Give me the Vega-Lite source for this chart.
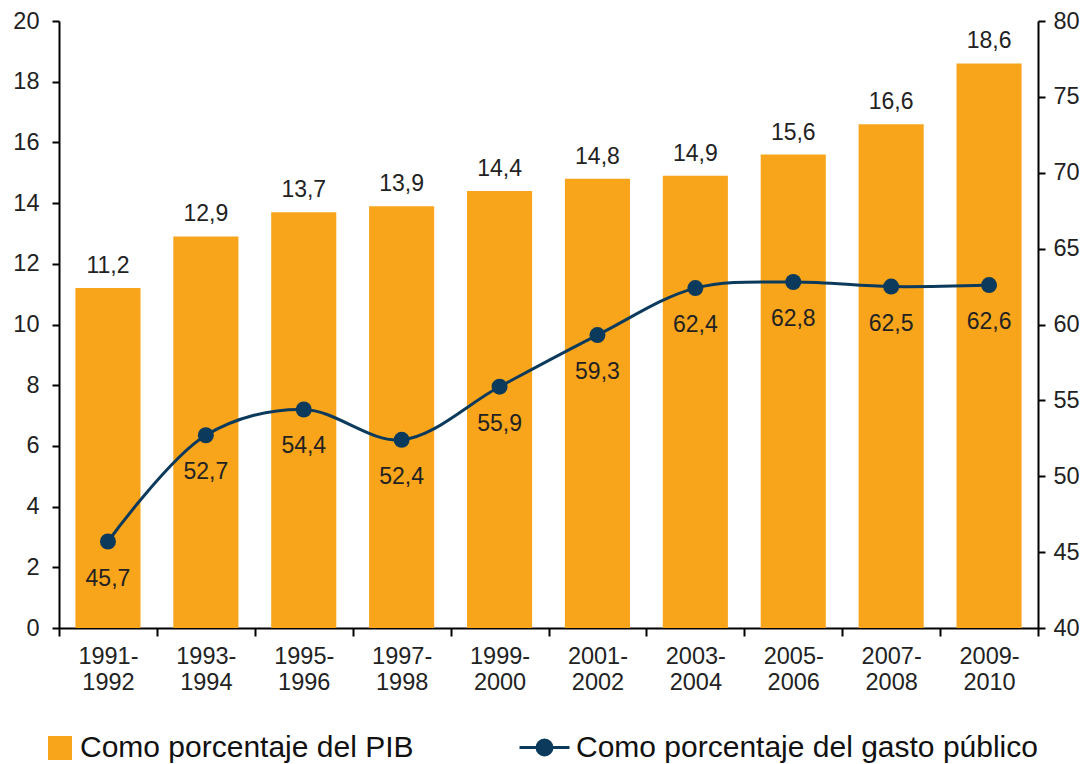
{
  "$schema": "https://vega.github.io/schema/vega-lite/v6.json",
  "width": 979,
  "height": 607,
  "autosize": {"type": "none"},
  "padding": {"left": 59, "top": 21, "right": 49, "bottom": 136},
  "background": "white",
  "config": {
    "view": {"stroke": null},
    "font": "Liberation Sans",
    "locale": {"number": {"decimal": ",", "thousands": ".", "grouping": [3], "currency": ["", " €"]}},
    "axis": {"domainColor": "#000", "domainWidth": 2, "tickColor": "#000", "tickWidth": 2, "tickSize": 7, "labelColor": "#222", "labelFontSize": 23.5, "grid": false, "title": null},
    "legend": {"labelFontSize": 30, "labelColor": "#111", "padding": 0, "title": null, "labelLimit": 800}
  },
  "data": {"values": [
    {"periodo": "1991-1992", "pib": 11.2, "gasto": 45.7},
    {"periodo": "1993-1994", "pib": 12.9, "gasto": 52.7},
    {"periodo": "1995-1996", "pib": 13.7, "gasto": 54.4},
    {"periodo": "1997-1998", "pib": 13.9, "gasto": 52.4},
    {"periodo": "1999-2000", "pib": 14.4, "gasto": 55.9},
    {"periodo": "2001-2002", "pib": 14.8, "gasto": 59.3},
    {"periodo": "2003-2004", "pib": 14.9, "gasto": 62.4},
    {"periodo": "2005-2006", "pib": 15.6, "gasto": 62.8},
    {"periodo": "2007-2008", "pib": 16.6, "gasto": 62.5},
    {"periodo": "2009-2010", "pib": 18.6, "gasto": 62.6}
  ]},
  "encoding": {
    "x": {
      "field": "periodo", "type": "nominal", "sort": null,
      "scale": {"paddingInner": 0, "paddingOuter": 0},
      "axis": {"labelAngle": 0, "tickBand": "extent", "tickSize": 8, "labelPadding": 8, "labelLineHeight": 26, "labelBaseline": "top",
               "labelExpr": "[slice(datum.label,0,5), slice(datum.label,5)]"}
    }
  },
  "layer": [
    {
      "layer": [
        {
          "mark": {"type": "bar", "color": "#F8A51C", "width": {"band": 0.665}},
          "encoding": {
            "y": {"field": "pib", "type": "quantitative", "scale": {"domain": [0, 20], "nice": false},
                  "axis": {"orient": "left", "values": [0, 2, 4, 6, 8, 10, 12, 14, 16, 18, 20], "labelPadding": 13}},
            "fill": {"datum": "Como porcentaje del PIB", "type": "nominal", "scale": {"range": ["#F8A51C"]},
                      "legend": {"orient": "none", "legendX": -14, "legendY": 712, "symbolType": "square", "symbolSize": 576, "labelOffset": 5, "symbolStrokeWidth": 0}}
          }
        },
        {
          "mark": {"type": "text", "fontSize": 23, "color": "#222", "baseline": "alphabetic", "dy": -15},
          "encoding": {
            "y": {"field": "pib", "type": "quantitative"},
            "text": {"field": "pib", "type": "quantitative", "format": ".1f"}
          }
        }
      ]
    },
    {
      "layer": [
        {
          "mark": {"type": "line", "interpolate": "catmull-rom", "strokeWidth": 3},
          "encoding": {
            "y": {"field": "gasto", "type": "quantitative", "scale": {"domain": [40, 80], "nice": false},
                  "axis": {"orient": "right", "values": [40, 45, 50, 55, 60, 65, 70, 75, 80], "labelPadding": 8}},
            "stroke": {"datum": "Como porcentaje del gasto público", "type": "nominal", "scale": {"range": ["#0B3A5C"]},
                       "legend": {"orient": "none", "legendX": 459, "legendY": 700, "symbolType": "M-1,0H1M0.3,0A0.3,0.3,0,1,1,-0.3,0A0.3,0.3,0,1,1,0.3,0Z", "symbolSize": 2500, "symbolStrokeWidth": 3, "symbolFillColor": "#0B3A5C", "labelOffset": 5}}
          }
        },
        {
          "mark": {"type": "point", "filled": true, "size": 256, "color": "#0B3A5C", "opacity": 1},
          "encoding": {"y": {"field": "gasto", "type": "quantitative"}}
        },
        {
          "mark": {"type": "text", "fontSize": 23, "color": "#222", "baseline": "alphabetic", "dy": 44},
          "encoding": {
            "y": {"field": "gasto", "type": "quantitative"},
            "text": {"field": "gasto", "type": "quantitative", "format": ".1f"}
          }
        }
      ]
    }
  ],
  "resolve": {"scale": {"y": "independent"}}
}
